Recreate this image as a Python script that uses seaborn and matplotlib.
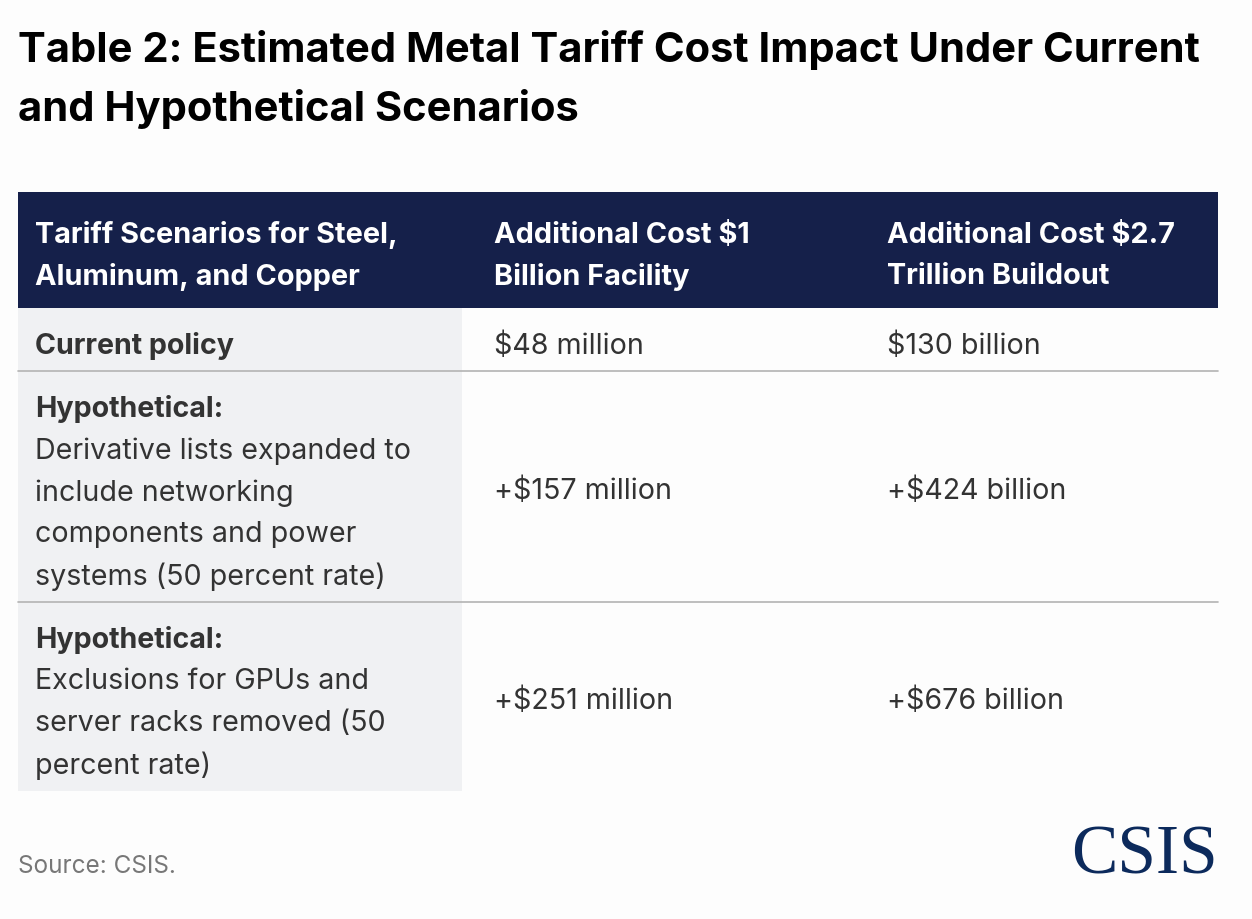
#!/usr/bin/env python3

import matplotlib
matplotlib.use("Agg")
import matplotlib.pyplot as plt
import seaborn as sns
from matplotlib.patches import Rectangle

# Table content
title_lines = ["Table 2: Estimated Metal Tariff Cost Impact Under Current",
               "and Hypothetical Scenarios"]
col_headers = [
    ["Tariff Scenarios for Steel,", "Aluminum, and Copper"],
    ["Additional Cost $1", "Billion Facility"],
    ["Additional Cost $2.7", "Trillion Buildout"],
]
scenario_labels = ["Current policy", "Hypothetical:", "Hypothetical:"]
scenario_details = [
    [],
    ["Derivative lists expanded to", "include networking",
     "components and power", "systems (50 percent rate)"],
    ["Exclusions for GPUs and", "server racks removed (50",
     "percent rate)"],
]
facility_cost = ["$48 million", "+$157 million", "+$251 million"]
buildout_cost = ["$130 billion", "+$424 billion", "+$676 billion"]
source_note = "Source: CSIS."

NAVY = "#15204a"
GRAY_BG = "#f0f1f3"
TEXT = "#333333"
RULE = "#b3b3b3"

sns.set_theme(style="white")
plt.rcParams["font.family"] = ["Inter", "DejaVu Sans"]

W, H = 1252, 920
fig = plt.figure(figsize=(W / 100, H / 100), dpi=100, facecolor="#fdfdfd")
ax = fig.add_axes([0, 0, 1, 1])
ax.set_xlim(0, W)
ax.set_ylim(H, 0)
ax.axis("off")

left, right = 18, 1218
col_x = [35, 494, 887]
first_col_right = 462
line_h = 42
body_fs = 20.6
head_fs = 20.8

# title
for i, t in enumerate(title_lines):
    ax.text(left, 50 + i * 59, t, fontsize=30, fontweight="bold",
            color="black", va="center", ha="left")

# header band
head_top, head_bot = 193, 309
ax.add_patch(Rectangle((left, head_top), right - left, head_bot - head_top,
                       color=NAVY, lw=0))
for x, lines in zip(col_x, col_headers):
    for j, t in enumerate(lines):
        ax.text(x, 235 + j * 42, t, fontsize=head_fs, fontweight="bold",
                color="white", va="center", ha="left")

# body rows
top = head_bot
for k in range(len(scenario_labels)):
    n = 1 + len(scenario_details[k])
    h = 63 + (n - 1) * line_h
    ax.add_patch(Rectangle((left, top), first_col_right - left, h,
                           color=GRAY_BG, lw=0))
    y0 = top + 37
    ax.text(col_x[0], y0, scenario_labels[k], fontsize=body_fs,
            fontweight="bold", color=TEXT, va="center", ha="left")
    for j, t in enumerate(scenario_details[k]):
        ax.text(col_x[0], y0 + (j + 1) * line_h, t, fontsize=body_fs,
                color=TEXT, va="center", ha="left")
    yc = top + h / 2 + 4 if n > 1 else y0
    ax.text(col_x[1], yc, facility_cost[k], fontsize=body_fs, color=TEXT,
            va="center", ha="left")
    ax.text(col_x[2], yc, buildout_cost[k], fontsize=body_fs, color=TEXT,
            va="center", ha="left")
    top += h
    if k < len(scenario_labels) - 1:
        ax.plot([left, right], [top, top], color=RULE, lw=1.2)

# footer
ax.text(left, 867, source_note, fontsize=17.5, color="#777777",
        va="center", ha="left")
ax.text(right, 857, "CSIS", fontsize=50, color="#0c2a5c",
        family="Liberation Serif", va="center", ha="right")

fig.savefig("out.png", dpi=100, facecolor=fig.get_facecolor())
plt.close(fig)
